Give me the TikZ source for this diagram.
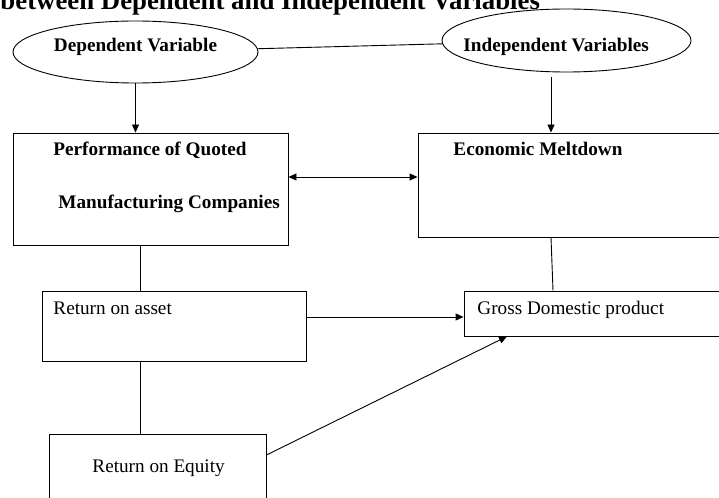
\documentclass[tikz,border=0pt]{standalone}
\usepackage{fontspec}
\setmainfont{Liberation Serif}
\usetikzlibrary{shapes.geometric,arrows.meta}
\begin{document}
\begin{tikzpicture}[x=1bp, y=-1bp, line width=0.9bp, >={Triangle[length=8bp,width=7bp]},
    oval/.style={draw, ellipse, inner sep=0pt},
    box/.style={draw, rectangle, inner sep=0pt},
    bold/.style={inner sep=0pt, font=\fontsize{19.2bp}{23bp}\selectfont\bfseries},
    plain/.style={inner sep=0pt, anchor=base west, font=\fontsize{19.2bp}{23bp}\selectfont}]
    \useasboundingbox (0,0) rectangle (719,498);
    \clip (0,0) rectangle (719,498);
    \node[anchor=base west, inner sep=0pt, font=\fontsize{26.8bp}{32bp}\selectfont\bfseries] (title) at (0,10) {between Dependent and Independent Variables};
    \node[oval, minimum width=245bp, minimum height=62bp] (dep) at (135.5,52) {};
    \node[oval, minimum width=249bp, minimum height=63bp] (indep) at (566.5,40.5) {};
    \node[bold, anchor=base] (deplabel) at (135.5,52) {Dependent Variable};
    \node[bold, anchor=base west] (indeplabel) at (463,52) {Independent Variables};
    \node[box, minimum width=275bp, minimum height=112bp] (perf) at (150.5,189) {};
    \node[box, minimum width=312bp, minimum height=104bp] (econ) at (574,185) {};
    \node[box, minimum width=264bp, minimum height=70bp] (roa) at (174,326) {};
    \node[box, minimum width=266bp, minimum height=45bp] (gdp) at (597,313.5) {};
    \node[box, minimum width=217bp, minimum height=86bp] (roe) at (157.5,477) {};
    \node[bold, anchor=base west] (perflabel) at (53,156) {Performance of Quoted};
    \node[bold, anchor=base west] (manulabel) at (58,209) {Manufacturing Companies};
    \node[bold, anchor=base west] (econlabel) at (453,156) {Economic Meltdown};
    \node[plain] (roalabel) at (53,314) {Return on asset};
    \node[plain] (gdplabel) at (477,314) {Gross Domestic product};
    \node[plain] (roelabel) at (92,472) {Return on Equity};
    \coordinate (indepfoot) at (551,77);
    \draw (dep) -- (indep);
    \draw[->] (dep.south) -- (dep.south |- perf.north);
    \draw[->] (indepfoot) -- (indepfoot |- econ.north);
    \draw[<->] ([yshift=12bp]perf.east) -- ([yshift=12bp]perf.east -| econ.west);
    \draw ([xshift=-10.5bp]perf.south) -- ([xshift=-10.5bp]perf.south |- roa.north);
    \draw ([xshift=-23bp]econ.south) -- ([xshift=-44bp]gdp.north);
    \draw[->] ([yshift=9bp]roa.east) -- ([yshift=9bp]roa.east -| gdp.west);
    \draw ([xshift=-34bp]roa.south) -- ([xshift=-34bp]roa.south |- roe.north);
    \draw[->] ([yshift=22bp]roe.east) -- ([xshift=-90bp]gdp.south);
\end{tikzpicture}
\end{document}
